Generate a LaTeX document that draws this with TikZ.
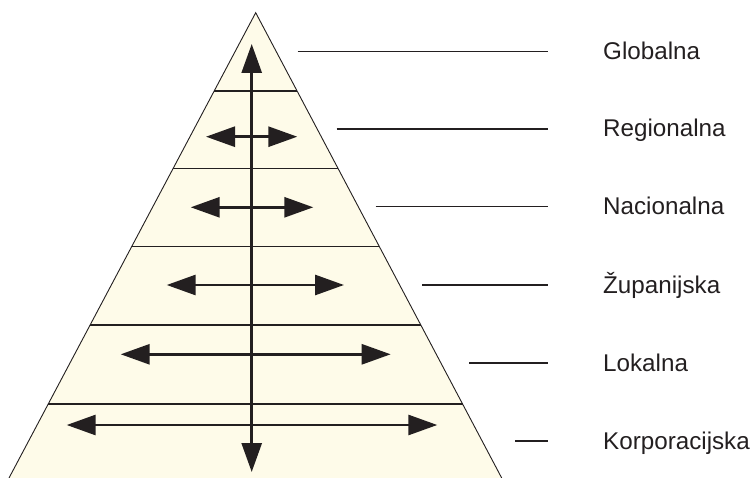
\documentclass[tikz,border=0pt]{standalone}
\usepackage{fontspec}
\setmainfont{Liberation Sans}
\usepackage{xcolor}
\usetikzlibrary{positioning, arrows.meta, calc}
\definecolor{cream}{HTML}{FEFBE9}
\definecolor{ink}{HTML}{231F20}

\begin{document}
\begin{tikzpicture}[x=1pt, y=-1pt,
  band/.style={ink, line width=1.7pt},
  flow/.style={ink, line width=2.8pt, {Triangle[length=29pt,width=20pt]}-{Triangle[length=29pt,width=20pt]}},
  leader/.style={ink, line width=1.5pt},
  level/.style={anchor=base west, inner sep=0pt, text=ink, font=\fontsize{24.2}{29}\selectfont}]
\useasboundingbox (0,0) rectangle (754,478);

\coordinate (apex) at (255.7,12.7);
\coordinate (bl) at (9,478);
\coordinate (br) at (501.7,478);
\fill [cream] (apex) -- (bl) -- (br) -- cycle;

% granice razina
\foreach \t in {0.1676,0.3348,0.5025,0.6712,0.8410}
  \draw [band] ($(apex)!\t!(bl)$) -- ($(apex)!\t!(br)$);

% strelice unutar piramide
\coordinate (r1l) at (206,136.7);   \coordinate (r1r) at (297.3,136.7);
\coordinate (r2l) at (190.7,207.3); \coordinate (r2r) at (313.3,207.3);
\coordinate (r3l) at (166.7,285);   \coordinate (r3r) at (344,285);
\coordinate (r4l) at (120.7,354.3); \coordinate (r4r) at (390.7,354.3);
\coordinate (r5l) at (66.7,425);    \coordinate (r5r) at (437.3,425);
\draw [flow] (r1l) -- (r1r);
\draw [flow] (r2l) -- (r2r);
\draw [flow] (r3l) -- (r3r);
\draw [flow] (r4l) -- (r4r);
\draw [flow] (r5l) -- (r5r);

\coordinate (up) at (251.7,44);
\coordinate (down) at (251.7,472);
\draw [flow] (down) -- (up);

\draw [ink, line width=0.9pt] (bl) -- (apex) -- (br);

% nazivi razina
\node [level] (glob) at (603,59.7) {Globalna};
\node [level] (reg) at (603,137) {Regionalna};
\node [level] (nac) at (603,214.7) {Nacionalna};
\node [level] (zup) at (603,293) {Županijska};
\node [level] (lok) at (603,371) {Lokalna};
\node [level] (kor) at (603,449) {Korporacijska};

\coordinate (globA) at (297.7,51.7);
\coordinate (regA) at (336.7,129);
\coordinate (nacA) at (375.7,206.7);
\coordinate (zupA) at (422.3,285);
\coordinate (lokA) at (469,363);
\coordinate (korA) at (515,441);
\draw [leader] (globA) -- ([xshift=-55pt]glob.west |- globA);
\draw [leader] (regA) -- ([xshift=-55pt]reg.west |- regA);
\draw [leader] (nacA) -- ([xshift=-55pt]nac.west |- nacA);
\draw [leader] (zupA) -- ([xshift=-55pt]zup.west |- zupA);
\draw [leader] (lokA) -- ([xshift=-55pt]lok.west |- lokA);
\draw [leader] (korA) -- ([xshift=-55pt]kor.west |- korA);

\end{tikzpicture}
\end{document}
